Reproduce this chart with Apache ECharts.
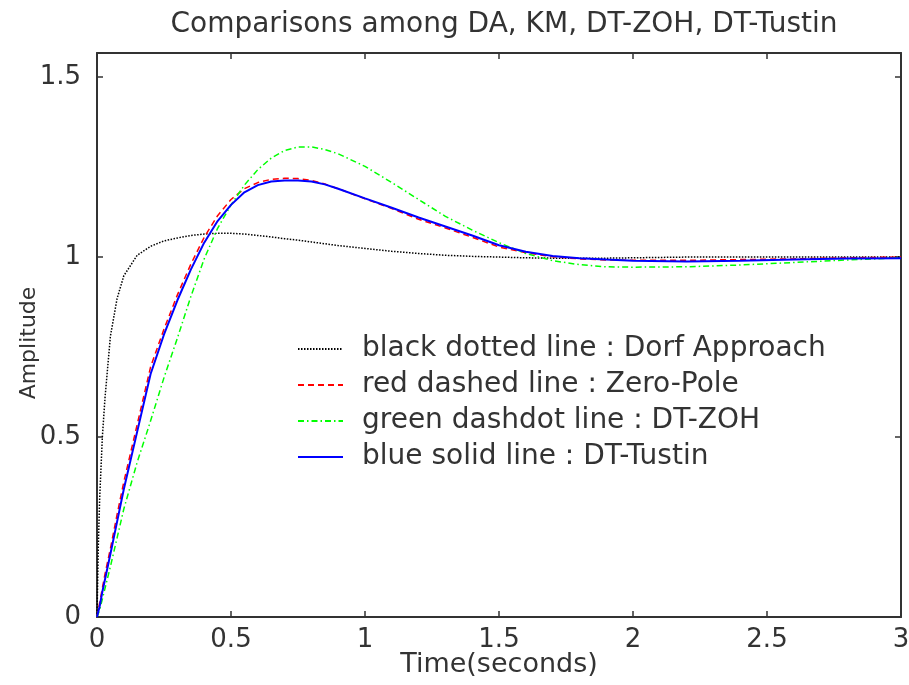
<!DOCTYPE html>
<html>
<head>
<meta charset="utf-8">
<script src="https://cdn.jsdelivr.net/npm/echarts@6/dist/echarts.min.js"></script>
<style>html,body{margin:0;padding:0;background:#fff}#c{width:909px;height:685px}</style>
</head>
<body>
<div id="c"></div>
<script>
// ---- data ----
var timeSec = [0, 0.005, 0.01, 0.02, 0.03, 0.05, 0.075, 0.1, 0.15, 0.2, 0.25, 0.3, 0.35, 0.4, 0.45, 0.5, 0.55, 0.6, 0.65, 0.7, 0.75, 0.8, 0.85, 0.9, 1.0, 1.1, 1.2, 1.3, 1.4, 1.5, 1.6, 1.7, 1.8, 1.9, 2.0, 2.2, 2.4, 2.6, 2.8, 3.0];
var dorfApproach = [0, 0.2, 0.33, 0.5, 0.61, 0.78, 0.885, 0.948, 1.005, 1.03, 1.045, 1.053, 1.06, 1.064, 1.066, 1.066, 1.064, 1.06, 1.056, 1.051, 1.047, 1.042, 1.037, 1.032, 1.024, 1.016, 1.01, 1.005, 1.002, 1.0, 0.998, 0.997, 0.997, 0.997, 0.998, 1.0, 1.0, 1.0, 1.0, 1.0];
var zeroPole = [0, 0.02, 0.04, 0.08, 0.12, 0.19, 0.285, 0.375, 0.535, 0.695, 0.8, 0.895, 0.98, 1.055, 1.115, 1.16, 1.19, 1.207, 1.216, 1.219, 1.218, 1.213, 1.203, 1.19, 1.162, 1.135, 1.105, 1.081, 1.055, 1.028, 1.012, 1.001, 0.995, 0.992, 0.991, 0.991, 0.993, 0.995, 0.998, 1.0];
var dtZoh = [0, 0.01, 0.02, 0.05, 0.08, 0.14, 0.22, 0.3, 0.43, 0.545, 0.665, 0.775, 0.89, 0.995, 1.08, 1.145, 1.2, 1.243, 1.275, 1.296, 1.306, 1.306, 1.299, 1.287, 1.252, 1.207, 1.16, 1.113, 1.075, 1.04, 1.01, 0.99, 0.979, 0.973, 0.972, 0.973, 0.978, 0.985, 0.992, 0.998];
var dtTustin = [0, 0.015, 0.03, 0.07, 0.105, 0.175, 0.265, 0.355, 0.515, 0.675, 0.785, 0.88, 0.965, 1.04, 1.1, 1.145, 1.18, 1.2, 1.21, 1.213, 1.213, 1.21, 1.202, 1.19, 1.163, 1.137, 1.11, 1.085, 1.06, 1.033, 1.015, 1.003, 0.997, 0.993, 0.99, 0.988, 0.99, 0.993, 0.996, 0.997];
var seriesNames = ['black dotted line : Dorf Approach', 'red dashed line : Zero-Pole', 'green dashdot line : DT-ZOH', 'blue solid line : DT-Tustin'];
var xTicks = [0, 0.5, 1, 1.5, 2, 2.5, 3];
var yTicks = [0, 0.5, 1, 1.5];
var titleText = 'Comparisons among DA, KM, DT-ZOH, DT-Tustin';

function pairs(vals) { return timeSec.map(function (t, i) { return [t, vals[i]]; }); }

var FONT = 'DejaVu Sans';
var AX = '#333333';
function tickFmt(list) {
  return function (v) {
    for (var i = 0; i < list.length; i++) if (Math.abs(list[i] - v) < 1e-6) return String(list[i]);
    return '';
  };
}
var chart = echarts.init(document.getElementById('c'), null, { renderer: 'canvas' });
function axLine() { return { show: true, onZero: false, lineStyle: { color: AX, width: 2 } }; }
function tick() { return { show: true, inside: true, length: 6, lineStyle: { color: AX, width: 1.5 } }; }
chart.setOption({
  backgroundColor: '#ffffff',
  animation: false,
  title: {
    text: titleText, left: 499, top: 6, textAlign: 'center',
    textStyle: { fontFamily: FONT, fontSize: 28, fontWeight: 'normal', color: AX }
  },
  grid: { left: 97, right: 8, top: 53, bottom: 68, containLabel: false, outerBoundsMode: 'none' },
  legend: {
    orient: 'vertical', left: 297, top: 335, itemWidth: 45, itemHeight: 14, itemGap: 8, padding: 0,
    data: seriesNames,
    itemStyle: { color: 'rgba(0,0,0,0)', borderWidth: 0, opacity: 0 },
    textStyle: { fontFamily: FONT, fontSize: 28, color: AX, padding: [0, 0, 0, 14] }
  },
  xAxis: [
    {
      type: 'value', min: 0, max: 3, interval: 0.5, position: 'bottom',
      name: 'Time(seconds)', nameLocation: 'middle', nameGap: 34, nameMoveOverlap: false,
      nameTextStyle: { fontFamily: FONT, fontSize: 27, color: AX },
      axisLine: axLine(), axisTick: tick(), splitLine: { show: false },
      axisLabel: { fontFamily: FONT, fontSize: 26, color: AX, margin: 10, formatter: tickFmt(xTicks) }
    },
    {
      type: 'value', min: 0, max: 3, interval: 0.5, position: 'top',
      axisLine: axLine(), axisTick: tick(), splitLine: { show: false }, axisLabel: { show: false }
    }
  ],
  yAxis: [
    {
      type: 'value', min: 0, max: 1.567, interval: 0.5, position: 'left',
      name: 'Amplitude', nameLocation: 'middle', nameGap: 57, nameRotate: 90, nameMoveOverlap: false,
      nameTextStyle: { fontFamily: FONT, fontSize: 22, color: AX, padding: [0, 16, 0, 0] },
      axisLine: axLine(), axisTick: tick(), splitLine: { show: false },
      axisLabel: { fontFamily: FONT, fontSize: 26, color: AX, margin: 16, formatter: tickFmt(yTicks) }
    },
    {
      type: 'value', min: 0, max: 1.567, interval: 0.5, position: 'right',
      axisLine: axLine(), axisTick: tick(), splitLine: { show: false }, axisLabel: { show: false }
    }
  ],
  series: [
    { name: seriesNames[0], type: 'line', symbol: 'none', data: pairs(dorfApproach),
      lineStyle: { color: '#000000', width: 1.5, type: [1.5, 1.5] }, itemStyle: { color: '#000000' } },
    { name: seriesNames[1], type: 'line', symbol: 'none', data: pairs(zeroPole),
      lineStyle: { color: '#ff0000', width: 1.5, type: [6, 4] }, itemStyle: { color: '#ff0000' } },
    { name: seriesNames[2], type: 'line', symbol: 'none', data: pairs(dtZoh),
      lineStyle: { color: '#00ff00', width: 1.5, type: [6, 3, 1.5, 3] }, itemStyle: { color: '#00ff00' } },
    { name: seriesNames[3], type: 'line', symbol: 'none', data: pairs(dtTustin),
      lineStyle: { color: '#0000ff', width: 2, type: 'solid' }, itemStyle: { color: '#0000ff' } }
  ]
});
</script>
</body>
</html>
